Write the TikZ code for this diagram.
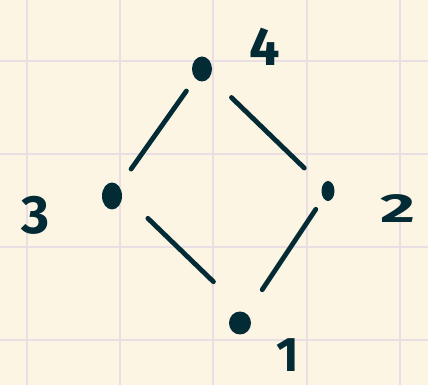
\documentclass[tikz,border=0pt]{standalone}
\usepackage{fontspec}
\setmainfont{Fira Sans}
\usepackage{xcolor}
\usepackage{tikz}
\usetikzlibrary{shapes.geometric}
\definecolor{paper}{HTML}{FDF5E3}
\definecolor{gridline}{HTML}{E8DEE4}
\definecolor{ink}{HTML}{032B35}
\tikzset{
  dot/.style={ellipse, fill=ink, inner sep=0pt},
  hedge/.style={line width=4.8pt, line cap=round, color=ink},
  lbl/.style={font=\fontsize{54}{54}\selectfont\bfseries, text=ink, inner sep=0pt}
}

\begin{document}
\begin{tikzpicture}[x=1pt, y=1pt]
\fill[paper] (0,0) rectangle (428,385);
\useasboundingbox (0,0) rectangle (428,385);
% squared paper
\foreach \gx in {27,120,213,307,400}
  \draw[gridline, line width=2pt] (\gx,0) -- (\gx,385);
\foreach \gy in {45,138,231,324}
  \draw[gridline, line width=2pt] (0,\gy) -- (428,\gy);
% elements
\node[dot, minimum width=20pt, minimum height=25pt] (n4) at (202,316) {};
\node[dot, minimum width=20pt, minimum height=27pt] (n3) at (112,189) {};
\node[dot, minimum width=13pt, minimum height=20pt] (n2) at (328,194) {};
\node[dot, minimum width=22pt, minimum height=23pt] (n1) at (240,62) {};
\node[lbl] (l4) at (265,338) {4};
\node[lbl] (l3) at (36,170) {3};
\node[lbl, xscale=1.25, yscale=0.75, transform shape] (l2) at (398,176) {2};
\node[lbl, scale=0.9, transform shape] (l1) at (288,30) {1};
% cover relations
\draw[hedge, shorten <=33pt, shorten >=27pt] (n3.center) -- (n4.center);
\draw[hedge, shorten <=41pt, shorten >=33pt] (n4.center) -- (n2.center);
\draw[hedge, shorten <=36pt, shorten >=45pt] (n3.15) -- (n1.60);
\draw[hedge, shorten <=22pt, shorten >=40pt] (n2.center) -- (n1.center);
\end{tikzpicture}
\end{document}
